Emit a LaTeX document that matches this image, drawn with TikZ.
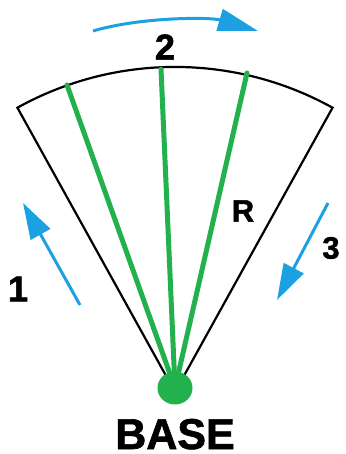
\documentclass[tikz,border=0pt]{standalone}
\usepackage{fontspec}
\setmainfont{Liberation Sans}
\newfontfamily\heavyfont{Liberation Sans Bold}[FakeBold=1.5]
\usetikzlibrary{arrows.meta,shapes.geometric}
\definecolor{fangreen}{RGB}{34,177,76}
\definecolor{arrowblue}{RGB}{27,161,226}
\begin{document}
\begin{tikzpicture}[x=1pt,y=1pt,
  edge/.style={draw=black,line width=2.2pt,line join=miter},
  ray/.style={draw=fangreen,line width=5pt,line cap=round},
  move/.style={draw=arrowblue,line width=3pt,-{Triangle[length=36pt,width=22pt]}},
  lbl/.style={inner sep=0pt,font=\heavyfont\fontsize{36}{36}\selectfont}]
\useasboundingbox (0,0) rectangle (345,454);
% geometry
\coordinate (apex) at (175,62);
\coordinate (L) at (17.4,346.3);
\coordinate (Rt) at (332.6,346.3);
\coordinate (g1) at (67,369);
\coordinate (g2) at (161,385);
\coordinate (g3) at (247,381);
\coordinate (hub) at (175,66);
% sector
\draw[edge] (apex) -- (L) arc[start angle=119,end angle=61,radius=325pt] -- cycle;
% rays
\draw[ray] (hub) -- (g1);
\draw[ray] (hub) -- (g2);
\draw[ray] (hub) -- (g3);
\node[draw=none,fill=fangreen,ellipse,minimum width=35pt,minimum height=33pt,inner sep=0pt] (base) at (hub) {};
% arrows
\coordinate (a1s) at (80,149);
\coordinate (a1e) at (23,251);
\coordinate (a3s) at (328,251);
\coordinate (a3e) at (277,154);
\coordinate (a2s) at (93,423);
\coordinate (a2e) at (258,423);
\draw[move] (a1s) -- (a1e);
\draw[move] (a3s) -- (a3e);
\draw[move,-{Triangle[length=40pt,width=22pt]}] (a2s) .. controls (140,437) and (210,437) .. (a2e);
% labels
\node[lbl] (n1) at (18,165) {1};
\node[lbl] (n2) at (165,407) {2};
\node[lbl,font=\heavyfont\fontsize{31}{31}\selectfont] (n3) at (331,206) {3};
\node[lbl,font=\heavyfont\fontsize{31}{31}\selectfont] (nR) at (243,243) {R};
\node[inner sep=0pt,text depth=0pt,anchor=base,font=\heavyfont\fontsize{43}{43}\selectfont] (nbase) at (175,5) {BASE};
\end{tikzpicture}
\end{document}
